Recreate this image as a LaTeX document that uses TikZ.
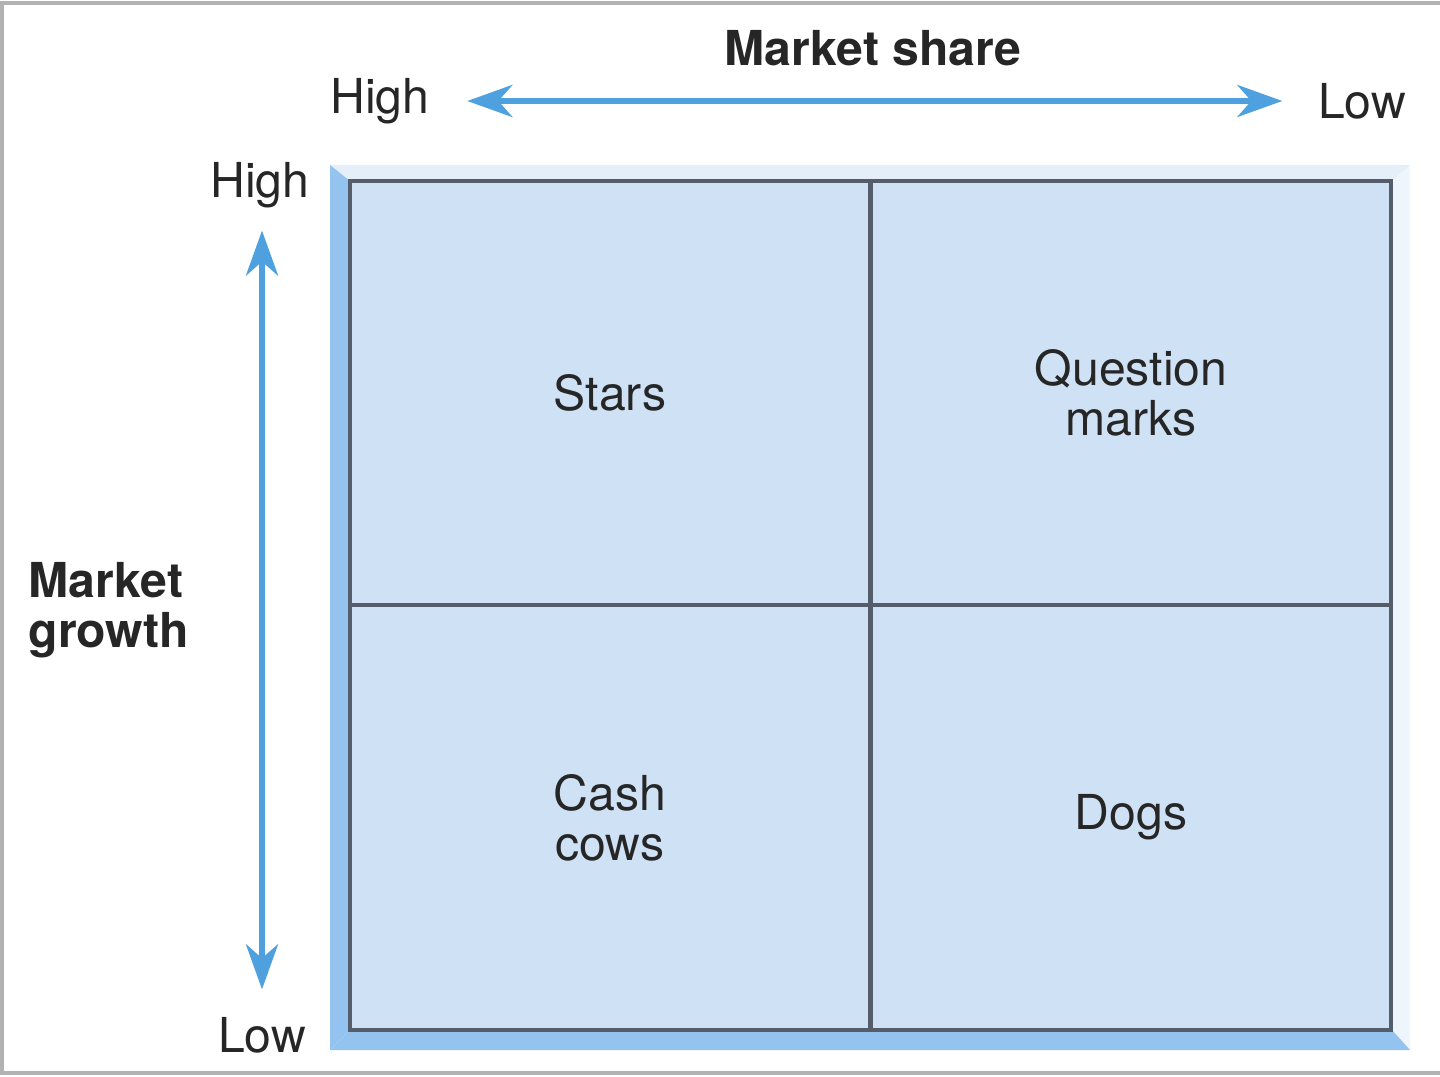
\documentclass[tikz,border=0pt]{standalone}
\usepackage{fontspec}
\setmainfont{TeX Gyre Heros}
\usetikzlibrary{arrows.meta}
\definecolor{axisblue}{HTML}{4FA0DE}
\definecolor{cellfill}{HTML}{CFE1F5}
\definecolor{cellline}{HTML}{555C6A}
\definecolor{bevdark}{HTML}{93C3EE}
\definecolor{bevlight}{HTML}{E4EFFA}
\begin{document}
\begin{tikzpicture}[
  x=0.01cm, y=-0.01cm,
  every node/.style={font=\fontsize{13.7}{14.2}\selectfont, text=black!85},
  cell/.style={rectangle, draw=cellline, fill=cellfill, line width=1.1pt, minimum width=5.2cm, minimum height=4.245cm, inner sep=0pt, align=center},
  axislabel/.style={inner sep=2pt},
  axistitle/.style={font=\fontsize{13.7}{14.2}\selectfont\bfseries, align=left, inner sep=0pt},
  axisarrow/.style={{Stealth[length=0.45cm, width=0.32cm, inset=0.14cm]}-{Stealth[length=0.45cm, width=0.32cm, inset=0.14cm]}, line width=1.7pt, axisblue}
]
\useasboundingbox (0,0) rectangle (1440,1077);

% Frame round the figure
\draw[gray!60, line width=1pt] (1440,3) -- (2,3) -- (2,1073) -- (1440,1073);

% Bevelled band behind the grid
\fill[bevlight] (330,165) -- (1410,165) -- (1392,181) -- (350,181) -- cycle;
\fill[bevlight!60] (1410,165) -- (1410,1050) -- (1392,1030) -- (1392,181) -- cycle;
\fill[bevdark] (330,165) -- (350,181) -- (350,1030) -- (330,1050) -- cycle;
\fill[bevdark] (330,1050) -- (350,1030) -- (1392,1030) -- (1410,1050) -- cycle;

% Quadrants
\node[cell] (stars) at (610,393) {Stars};
\node[cell] (qmarks) at (1131,393) {Question\\marks};
\node[cell] (cows) at (610,817.5) {Cash\\cows};
\node[cell] (dogs) at (1131,817.5) {Dogs};

% Market share axis
\node[axistitle] (share) at (873,48) {Market share};
\node[axislabel] (shareHigh) at (380,101) {High};
\node[axislabel] (shareLow) at (1362,101) {Low};
\draw[axisarrow, shorten <=0.30cm, shorten >=0.28cm] (shareHigh.east) -- (shareLow.west);

% Market growth axis
\node[axistitle, anchor=west] (growth) at (28,610) {Market\\growth};
\node[axislabel] (growthHigh) at (260,185) {High};
\node[axislabel] (growthLow) at (262,1035) {Low};
\draw[axisarrow, shorten <=0.15cm, shorten >=0.2cm] (growthHigh.south -| 262,0) -- (growthLow.north -| 262,0);

\end{tikzpicture}
\end{document}
